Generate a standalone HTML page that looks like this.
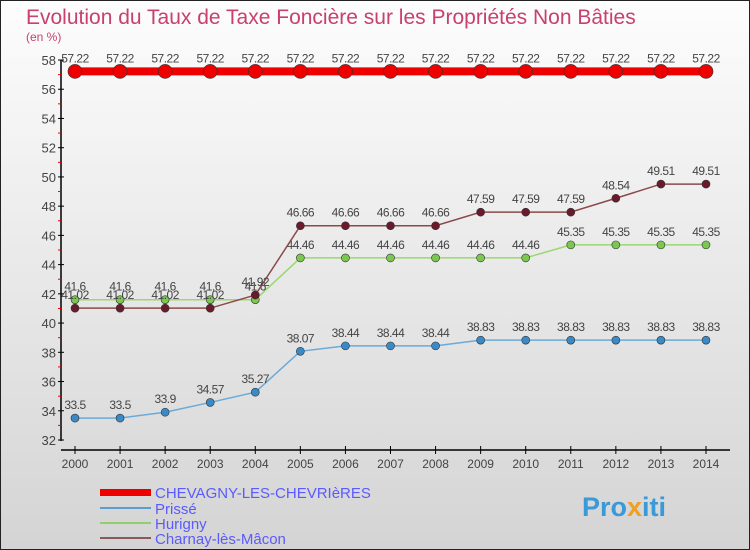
<!DOCTYPE html>
<html><head><meta charset="utf-8"><style>
body{margin:0;width:750px;height:550px;overflow:hidden;font-family:"Liberation Sans",sans-serif}
svg{display:block}
</style></head><body>
<svg id="chart" width="750" height="550">
<defs><linearGradient id="bg" x1="0" y1="0" x2="0" y2="1"><stop offset="0" stop-color="#fdfdfd"/><stop offset="1" stop-color="#d4d4d4"/></linearGradient></defs>
<rect x="0.5" y="0.5" width="749" height="549" fill="url(#bg)" stroke="#222"/>
<text x="26" y="24" font-size="21" fill="#c8406e">Evolution du Taux de Taxe Foncière sur les Propriétés Non Bâties</text>
<text x="26" y="41" font-size="12" fill="#c8406e">(en %)</text>
<g id="axes"></g><g id="series"></g>
<g>
<rect x="100" y="489" width="51" height="7" fill="#e00"/>
<text x="155" y="498" font-size="15" fill="#5a5aff">CHEVAGNY-LES-CHEVRIèRES</text>
<line x1="100" y1="508" x2="151" y2="508" stroke="#5a9fcf" stroke-width="2"/>
<text x="155" y="514" font-size="15" fill="#5a5aff">Prissé</text>
<line x1="100" y1="523" x2="151" y2="523" stroke="#8fd06a" stroke-width="2"/>
<text x="155" y="529" font-size="15" fill="#5a5aff">Hurigny</text>
<line x1="100" y1="538" x2="151" y2="538" stroke="#8a5a5a" stroke-width="2"/>
<text x="155" y="544" font-size="15" fill="#5a5aff">Charnay-lès-Mâcon</text>
</g>
<text x="582" y="516" font-size="27" font-weight="bold" fill="#3a9ad9">Pro<tspan fill="#f0a020">x</tspan>iti</text>
</svg>
<script>
const years=[2000,2001,2002,2003,2004,2005,2006,2007,2008,2009,2010,2011,2012,2013,2014];
const chevagny=[57.22,57.22,57.22,57.22,57.22,57.22,57.22,57.22,57.22,57.22,57.22,57.22,57.22,57.22,57.22];
const prisse=[33.5,33.5,33.9,34.57,35.27,38.07,38.44,38.44,38.44,38.83,38.83,38.83,38.83,38.83,38.83];
const hurigny=[41.6,41.6,41.6,41.6,41.6,44.46,44.46,44.46,44.46,44.46,44.46,45.35,45.35,45.35,45.35];
const charnay=[41.02,41.02,41.02,41.02,41.92,46.66,46.66,46.66,46.66,47.59,47.59,47.59,48.54,49.51,49.51];
const yTicks=[32,34,36,38,40,42,44,46,48,50,52,54,56,58];
const NS="http://www.w3.org/2000/svg";
const X=i=>75+i*(631/14);
const Y=v=>440-(v-32)*(380/26);
function mk(t,a,p){const e=document.createElementNS(NS,t);for(const k in a)e.setAttribute(k,a[k]);p.appendChild(e);return e;}
const ax=document.getElementById('axes');
const yl=mk('line',{x1:61,y1:60,x2:61,y2:441,stroke:'#000','stroke-width':1.5},ax);


const xl=mk('line',{x1:61,y1:450,x2:730,y2:450,stroke:'#000','stroke-width':1.5},ax);


yTicks.forEach(v=>{
  mk('line',{x1:58,y1:Y(v),x2:64,y2:Y(v),stroke:'#000'},ax);
  if(v<58) mk('line',{x1:58,y1:Y(v+1),x2:61,y2:Y(v+1),stroke:'#e00'},ax);
  const t=mk('text',{x:56,y:Y(v)+5,'font-size':13,fill:'#444','text-anchor':'end'},ax);
  t.textContent=v;
  
  
});
years.forEach((yr,i)=>{
  mk('line',{x1:X(i),y1:446,x2:X(i),y2:454,stroke:'#000'},ax);
  const t=mk('text',{x:X(i),y:468,'font-size':12,fill:'#444','text-anchor':'middle'},ax);
  t.textContent=yr;
  
  
});
const sg=document.getElementById('series');
function series(vals,name,col,dot,w,r){
  const g=mk('g',{},sg);
  
  
  const pl=mk('polyline',{points:vals.map((v,i)=>X(i)+','+Y(v)).join(' '),fill:'none',stroke:col,'stroke-width':w},g);
  
  
  vals.forEach((v,i)=>{
    const c=mk('circle',{cx:X(i),cy:Y(v),r:r,fill:dot,stroke:'#333','stroke-width':0.6},g);
    
    
    const t=mk('text',{x:X(i),y:Y(v)-9,'font-size':12,fill:'#444','text-anchor':'middle','letter-spacing':'-0.5'},g);
    t.textContent=v;
    
    
  });
}
series(prisse,'prisse','#6aaad8','#3a8ac8',1.5,4);
series(hurigny,'hurigny','#9ad870','#7ac850',1.5,4);
series(charnay,'charnay','#8a4a4a','#6a1a2a',1.5,4);
series(chevagny,'chevagny','#e00','#e00',8,7);
</script>
</body></html>
